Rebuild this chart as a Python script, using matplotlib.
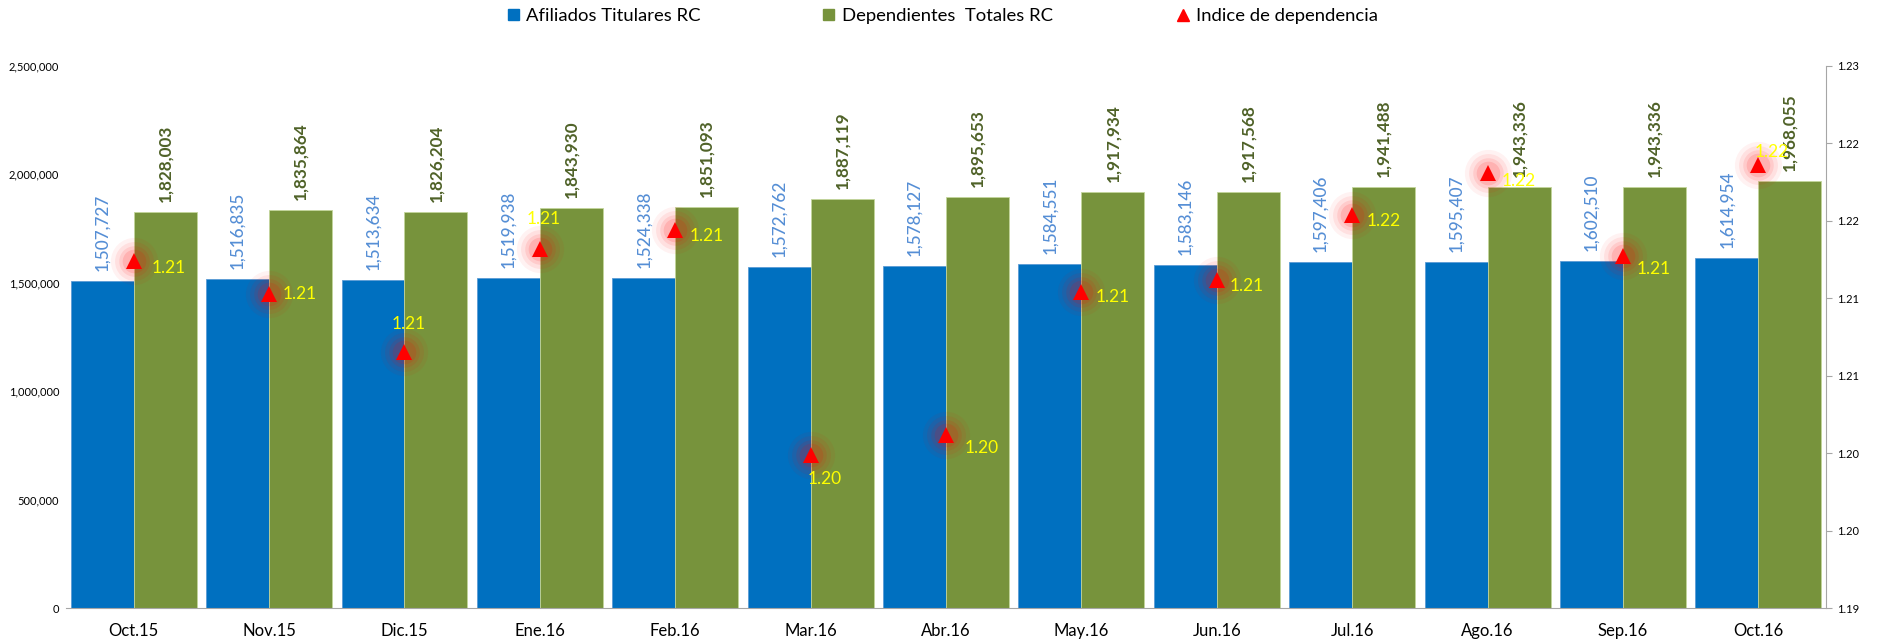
import numpy as np
import matplotlib
matplotlib.use("Agg")
import matplotlib.pyplot as plt
from matplotlib.lines import Line2D
from matplotlib.patches import Patch
from matplotlib.ticker import FuncFormatter

plt.rcParams['font.family'] = ['Lato', 'DejaVu Sans']

# datos del grafico
meses = ["Oct.15", "Nov.15", "Dic.15", "Ene.16", "Feb.16", "Mar.16", "Abr.16",
         "May.16", "Jun.16", "Jul.16", "Ago.16", "Sep.16", "Oct.16"]
titulares = [1507727, 1516835, 1513634, 1519938, 1524338, 1572762, 1578127,
             1584551, 1583146, 1597406, 1595407, 1602510, 1614954]
dependientes = [1828003, 1835864, 1826204, 1843930, 1851093, 1887119, 1895653,
                1917934, 1917568, 1941488, 1943336, 1943336, 1968055]
indice = [1.2124, 1.2103, 1.2065, 1.2132, 1.2144, 1.1999, 1.2012,
          1.2104, 1.2112, 1.2154, 1.2181, 1.2127, 1.2186]

# desplazamiento de las etiquetas del indice (pixeles)
off_x = [35, 31, 4, 4, 31, 14, 36, 31, 30, 31, 31, 31, 13]
off_y = [-7, 0, 28, 30, -6, -24, -13, -5, -6, -6, -8, -13, 13]

azul = "#0070C0"
verde = "#77933C"

fig = plt.figure(figsize=(18.81, 6.43), dpi=100)
ax = fig.add_axes([0.0351, 0.0544, 0.9357, 0.843])

x = np.arange(len(meses))
w = 0.465
ax.bar(x - w / 2, titulares, w, color=azul, edgecolor="#5B9BD5", linewidth=0.6, zorder=2)
ax.bar(x + w / 2, dependientes, w, color=verde, edgecolor="#C3D69B", linewidth=0.6, zorder=2)

for i in range(len(meses)):
    ax.annotate(f"{titulares[i]:,}", (x[i] - w / 2, titulares[i]), xytext=(0, 10),
                textcoords="offset pixels", rotation=90, ha="center", va="bottom",
                fontsize=12.3, color="#558ED5", fontweight="medium", zorder=3)
    ax.annotate(f"{dependientes[i]:,}", (x[i] + w / 2, dependientes[i]), xytext=(0, 10),
                textcoords="offset pixels", rotation=90, ha="center", va="bottom",
                fontsize=12.3, color="#4F6228", fontweight="bold", zorder=3)

ax.set_xlim(-0.5, len(meses) - 0.5)
ax.set_ylim(0, 2500000)
ax.set_yticks(np.arange(0, 2500001, 500000))
ax.yaxis.set_major_formatter(FuncFormatter(lambda v, p: f"{int(v):,}"))
ax.tick_params(axis="y", length=0, labelsize=8, pad=5)
ax.set_xticks(x)
ax.set_xticklabels(meses, fontsize=12)
ax.tick_params(axis="x", length=0, pad=11)
for s in ["left", "top", "right"]:
    ax.spines[s].set_visible(False)
ax.spines["bottom"].set_color("#A6A6A6")

# eje secundario para el indice
ax2 = ax.twinx()
ax2.set_ylim(1.19, 1.225)
ax2.set_yticks(np.arange(1.19, 1.2251, 0.005))
ax2.yaxis.set_major_formatter(FuncFormatter(lambda v, p: "%.2f" % (v + 1e-9)))
ax2.tick_params(axis="y", length=4, labelsize=8, pad=4, color="#A6A6A6")
for s in ["left", "top", "bottom"]:
    ax2.spines[s].set_visible(False)
ax2.spines["right"].set_color("#A6A6A6")

# brillo rojo alrededor de los triangulos
for ms, a in [(34, 0.05), (28, 0.07), (22, 0.09), (17, 0.12)]:
    ax2.plot(x, indice, "o", ms=ms, color="red", alpha=a, markeredgewidth=0, zorder=4)
ax2.plot(x, indice, "^", ms=12, color="#FF0000", markeredgewidth=0, zorder=5)

for i in range(len(meses)):
    ax2.annotate("%.2f" % indice[i], (x[i], indice[i]), xytext=(off_x[i], off_y[i]),
                 textcoords="offset pixels", ha="center", va="center",
                 fontsize=12.5, color="#FFFF00", zorder=6)

# leyenda
fs = 13.3
fig.legend(handles=[Patch(color=azul, label="Afiliados Titulares RC")], loc="center left",
           bbox_to_anchor=(0.265, 0.975), frameon=False, fontsize=fs,
           handlelength=0.6, handleheight=0.6, handletextpad=0.4, borderpad=0)
fig.legend(handles=[Patch(color=verde, label="Dependientes  Totales RC")], loc="center left",
           bbox_to_anchor=(0.4328, 0.975), frameon=False, fontsize=fs,
           handlelength=0.6, handleheight=0.6, handletextpad=0.4, borderpad=0)
fig.legend(handles=[Line2D([], [], marker="^", ls="none", color="red", ms=9,
                           label="Indice de dependencia")], loc="center left",
           bbox_to_anchor=(0.621, 0.975), frameon=False, fontsize=fs,
           handlelength=0.6, handletextpad=0.4, borderpad=0)

fig.savefig("out.png", dpi=100)
